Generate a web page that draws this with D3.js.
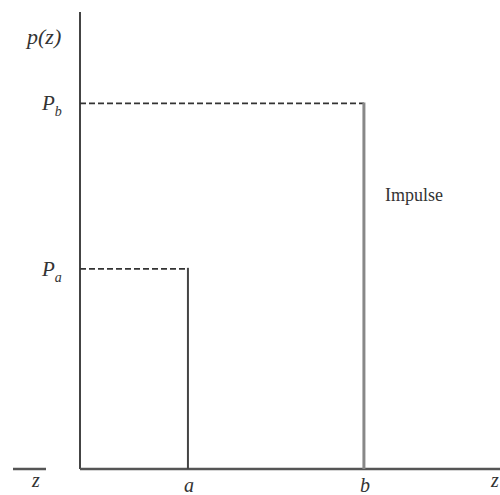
<!DOCTYPE html>
<html><head><meta charset="utf-8">
<script src="https://cdn.jsdelivr.net/npm/d3@7"></script>
<style>body{margin:0;background:#fff}svg{display:block}text{font-family:"Liberation Serif","DejaVu Serif",serif;fill:#333}</style>
</head><body><svg id="c" width="500" height="495"></svg>
<script>
const categories = ["a", "b"];
const zValues = [0.257, 0.676];
const probValues = [0.438, 0.80];
const probLabels = ["a", "b"];

const svg = d3.select("#c");
const x = d3.scaleLinear().domain([0, 1]).range([80, 500]);
const y = d3.scaleLinear().domain([0, 1]).range([469, 12]);

// axes
svg.append("line").attr("x1", x(0)).attr("x2", x(0)).attr("y1", y(1)).attr("y2", y(0))
  .attr("stroke", "#444").attr("stroke-width", 2);
svg.append("line").attr("x1", x(0)).attr("x2", x(1)).attr("y1", y(0)).attr("y2", y(0))
  .attr("stroke", "#555").attr("stroke-width", 2.5);
svg.append("line").attr("x1", 13).attr("x2", 46).attr("y1", y(0)).attr("y2", y(0))
  .attr("stroke", "#555").attr("stroke-width", 2.5);

// dashed levels and verticals
categories.forEach((c, i) => {
  svg.append("line").attr("x1", x(0)).attr("x2", x(zValues[i])).attr("y1", y(probValues[i])).attr("y2", y(probValues[i]))
    .attr("stroke", "#333").attr("stroke-width", 1.8).attr("stroke-dasharray", "6,3");
  svg.append("line").attr("x1", x(zValues[i])).attr("x2", x(zValues[i])).attr("y1", y(probValues[i]) - 1).attr("y2", y(0))
    .attr("stroke", i === 1 ? "#888" : "#444").attr("stroke-width", i === 1 ? 3 : 2);
  // x label
  svg.append("text").attr("x", x(zValues[i]) + 1).attr("y", 492).attr("text-anchor", "middle")
    .attr("font-size", 20).attr("font-style", "italic").text(c);
  // y label
  const t = svg.append("text").attr("x", 42).attr("y", y(probValues[i]) + 7).attr("font-size", 21).attr("font-style", "italic");
  t.append("tspan").text("P");
  t.append("tspan").attr("dy", 6).attr("font-size", 14).text(probLabels[i]);
});

svg.append("text").attr("x", 27).attr("y", 44).attr("font-size", 22).attr("font-style", "italic").text("p(z)");
svg.append("text").attr("x", 32).attr("y", 487).attr("font-size", 20).attr("font-style", "italic").text("z");
svg.append("text").attr("x", 491).attr("y", 487).attr("font-size", 20).attr("font-style", "italic").text("z");
svg.append("text").attr("x", 385).attr("y", 201).attr("font-size", 18).text("Impulse");
</script></body></html>
